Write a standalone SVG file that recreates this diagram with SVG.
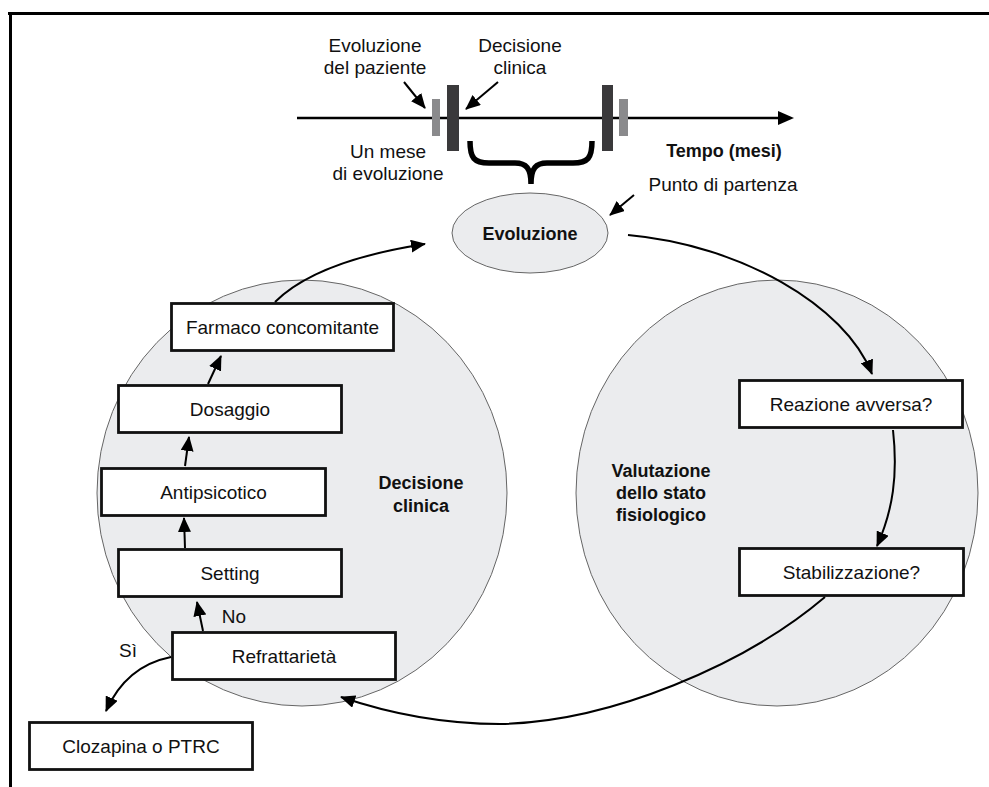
<svg xmlns="http://www.w3.org/2000/svg" width="989" height="787" viewBox="0 0 989 787">
<style>
text{font-family:"Liberation Sans",Arial,sans-serif;font-size:19px;fill:#111;text-anchor:middle}
.b{font-weight:bold;font-size:18px}
.box{fill:#fff;stroke:#111;stroke-width:2.8}
.zone{fill:#ebecee;stroke:#666;stroke-width:1}
.con{fill:none;stroke:#000;stroke-width:2}
</style>
<defs>
<marker id="ah" viewBox="0 0 15 13" refX="14" refY="6.5" markerWidth="15" markerHeight="13" orient="auto" markerUnits="userSpaceOnUse">
<path d="M0,0 L15,6.5 L0,13 z" fill="#000"/>
</marker>
</defs>
<rect width="989" height="787" fill="#fff"/>
<g id="frame" stroke="#000" stroke-width="3" fill="none">
<path d="M8,13.5 H989"/>
<path d="M10.5,12 V787"/>
</g>
<g id="timeline">
<path d="M297,118 H780" stroke="#000" stroke-width="2.5"/>
<path d="M778,111 L794,118 L778,125 z" fill="#000"/>
<rect x="432" y="99" width="8" height="37" fill="#8a8a8c"/>
<rect x="447" y="85" width="12" height="66" fill="#3a393b"/>
<rect x="602" y="85" width="11" height="66" fill="#3a393b"/>
<rect x="619" y="99" width="9" height="37" fill="#8a8a8c"/>
<path d="M470,141 C470,158 474,163 489,163 L515,163 C526,163 531,168 531,184 M592,141 C592,158 588,163 573,163 L547,163 C536,163 531,168 531,184" fill="none" stroke="#000" stroke-width="5.5"/>
<text x="375" y="52">Evoluzione</text>
<text x="375" y="74">del paziente</text>
<text x="520" y="52">Decisione</text>
<text x="520" y="74">clinica</text>
<text x="388" y="158">Un mese</text>
<text x="388" y="180">di evoluzione</text>
<text class="b" x="724" y="157">Tempo (mesi)</text>
<text x="723" y="191">Punto di partenza</text>
</g>
<g id="zone-decisione">
<ellipse class="zone" cx="302" cy="493" rx="205" ry="213"/>
<text class="b" x="421" y="489">Decisione</text>
<text class="b" x="421" y="512">clinica</text>
</g>
<g id="zone-valutazione">
<ellipse class="zone" cx="777" cy="493" rx="201" ry="213"/>
<text class="b" x="661" y="477">Valutazione</text>
<text class="b" x="661" y="499">dello stato</text>
<text class="b" x="661" y="521">fisiologico</text>
</g>
<g id="evoluzione">
<ellipse class="zone" cx="530" cy="233" rx="78" ry="40"/>
<text class="b" x="530" y="240">Evoluzione</text>
</g>
<g id="farmaco">
<rect class="box" x="171.5" y="303.5" width="222" height="47"/>
<text x="282.5" y="334">Farmaco concomitante</text>
</g>
<g id="dosaggio">
<rect class="box" x="118.5" y="385.5" width="223" height="47"/>
<text x="230" y="415.5">Dosaggio</text>
</g>
<g id="antipsicotico">
<rect class="box" x="101.5" y="468.5" width="224" height="47"/>
<text x="213.5" y="498.5">Antipsicotico</text>
</g>
<g id="setting">
<rect class="box" x="118.5" y="549.5" width="223" height="47"/>
<text x="230" y="579.5">Setting</text>
</g>
<g id="refrattarieta">
<rect class="box" x="172.5" y="632.5" width="223" height="47"/>
<text x="284" y="662.5">Refrattarietà</text>
</g>
<g id="clozapina">
<rect class="box" x="29.5" y="722.5" width="223" height="47"/>
<text x="141" y="752.5">Clozapina o PTRC</text>
</g>
<g id="reazione">
<rect class="box" x="739.5" y="380.5" width="223" height="47"/>
<text x="851" y="410.5">Reazione avversa?</text>
</g>
<g id="stabilizzazione">
<rect class="box" x="739.5" y="548.5" width="224" height="47"/>
<text x="851.5" y="578.5">Stabilizzazione?</text>
</g>
<g id="connectors">
<path class="con" d="M404,82 L425,108" marker-end="url(#ah)"/>
<path class="con" d="M498,82 L466,109" marker-end="url(#ah)"/>
<path class="con" d="M634,195 L610,215" marker-end="url(#ah)"/>
<path class="con" d="M275,302 Q316,261 425,244" marker-end="url(#ah)"/>
<path class="con" d="M628,235 C740,245 845,305 872,374" marker-end="url(#ah)"/>
<path class="con" d="M893,430 C898,475 893,510 877,546" marker-end="url(#ah)"/>
<path class="con" d="M825,597 C745,665 610,722 500,724 C440,724 385,712 341,697" marker-end="url(#ah)"/>
<path class="con" d="M208,384 L221,356" marker-end="url(#ah)"/>
<path class="con" d="M185,466 L189,437" marker-end="url(#ah)"/>
<path class="con" d="M185,548 L184,518" marker-end="url(#ah)"/>
<path class="con" d="M203,631 L197,602" marker-end="url(#ah)"/>
<path class="con" d="M171,657 Q126,666 106,711" marker-end="url(#ah)"/>
<text x="234" y="623">No</text>
<text x="128" y="657">Sì</text>
</g>
</svg>
